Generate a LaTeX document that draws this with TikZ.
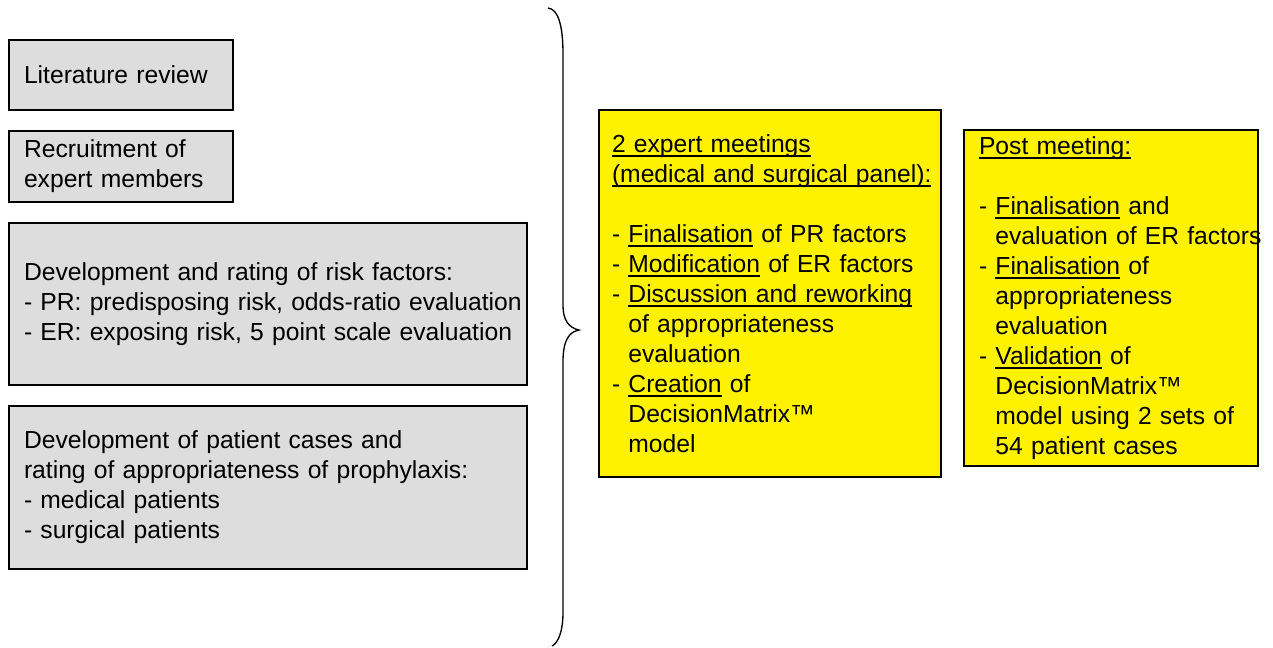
\documentclass[tikz,border=0pt]{standalone}
\usepackage{fontspec}
\setmainfont{Liberation Sans}
\usepackage{tikz}

\definecolor{boxgrey}{gray}{0.867}
\tikzset{
  greybox/.style={draw, fill=boxgrey, line width=0.8pt, align=left, inner xsep=11.25pt, inner ysep=0pt},
  yellowbox/.style={draw, fill=yellow, line width=0.8pt, align=left, inner ysep=0pt},
}
\newcommand{\ulw}[1]{\setbox0\hbox{#1}\rlap{\vrule height -2.3pt depth 3.8pt width \wd0}\box0\relax}
\newcommand{\ind}{\hphantom{- }}

\begin{document}
\begin{tikzpicture}[x=0.75pt,y=-0.75pt,font=\fontsize{18.5}{22.5}\selectfont]
\useasboundingbox (0,0) rectangle (1273,647);

% preparation steps
\node[greybox, text width=145.5pt, minimum height=52.5pt] (lit) at (121,75) {Literature review};
\node[greybox, text width=145.5pt, minimum height=53.25pt] (recruit) at (121,166.5) {Recruitment of\\expert members};
\node[greybox, text width=366pt, minimum height=121.5pt] (riskf) at (268,304)
  {Development and rating of risk factors:\\\mbox{- PR: predisposing risk, odds-ratio evaluation}\\\mbox{- ER: exposing risk, 5 point scale evaluation}};
\node[greybox, text width=366pt, minimum height=122.25pt] (cases) at (268,487.5)
  {Development of patient cases and\\rating of appropriateness of prophylaxis:\\- medical patients\\- surgical patients};

% brace
\draw[line width=1pt] (548,8) .. controls (558,9) and (563,25) .. (563,54) -- (563,306)
  .. controls (563,320) and (569,328) .. (579,330)
  .. controls (569,332) and (563,340) .. (563,362) -- (563,612)
  .. controls (563,632) and (558,643) .. (552,646);

% meetings
\node[yellowbox, inner xsep=9.75pt, text width=237pt, minimum height=275.25pt] (meet) at (770,293.5)
  {\ulw{2 expert meetings}\\\mbox{\ulw{(medical and surgical panel):}}\\[22.5pt]
   - \ulw{Finalisation} of PR factors\\
   - \ulw{Modification} of ER factors\\
   - \ulw{Discussion and reworking}\\
   \ind of appropriateness\\
   \ind evaluation\\
   - \ulw{Creation} of\\
   \ind DecisionMatrix™\\
   \ind model};
\node[yellowbox, inner xsep=11.25pt, text width=198pt, minimum height=252pt] (post) at (1111,298)
  {\ulw{Post meeting:}\\[22.5pt]
   - \ulw{Finalisation} and\\
   \mbox{\ind evaluation of ER factors}\\
   - \ulw{Finalisation} of\\
   \ind appropriateness\\
   \ind evaluation\\
   - \ulw{Validation} of\\
   \ind DecisionMatrix™\\
   \ind model using 2 sets of\\
   \ind 54 patient cases};
\end{tikzpicture}
\end{document}
